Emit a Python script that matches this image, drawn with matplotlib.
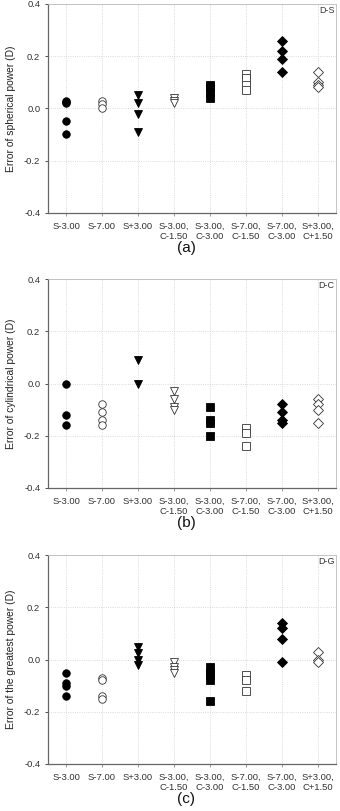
import matplotlib
matplotlib.use("Agg")
import matplotlib.pyplot as plt

plt.rcParams['font.family'] = ['Liberation Sans', 'DejaVu Sans']

categories = ["S-3.00", "S-7.00", "S+3.00", "S-3.00,\nC-1.50", "S-3.00,\nC-3.00",
              "S-7.00,\nC-1.50", "S-7.00,\nC-3.00", "S+3.00,\nC+1.50"]

# marker style per category: (marker, filled)
markers = ["o", "o", "v", "v", "s", "s", "D", "D"]
filled  = [True, False, True, False, True, False, True, False]

# (a) spherical power error
sph_vals = [
    [0.03, 0.025, 0.02, -0.05, -0.10],
    [0.03, 0.015, 0.0],
    [0.05, 0.02, -0.02, -0.09],
    [0.04, 0.03, 0.02],
    [0.09, 0.08, 0.06, 0.04],
    [0.13, 0.115, 0.09, 0.07],
    [0.26, 0.22, 0.19, 0.14],
    [0.14, 0.10, 0.09, 0.08],
]

# (b) cylindrical power error
cyl_vals = [
    [0.0, -0.12, -0.16],
    [-0.08, -0.11, -0.14, -0.16],
    [0.09, 0.0],
    [-0.03, -0.06, -0.09, -0.10],
    [-0.09, -0.14, -0.15, -0.20],
    [-0.17, -0.19, -0.24],
    [-0.08, -0.11, -0.14, -0.15],
    [-0.06, -0.08, -0.10, -0.15],
]

# (c) greatest power error
grt_vals = [
    [-0.05, -0.09, -0.10, -0.14],
    [-0.07, -0.08, -0.14, -0.15],
    [0.05, 0.025, 0.0, -0.02],
    [-0.01, -0.03, -0.04, -0.05],
    [-0.03, -0.05, -0.06, -0.08, -0.16],
    [-0.06, -0.08, -0.12],
    [0.14, 0.12, 0.08, -0.01],
    [0.03, 0.0, -0.01],
]

panels = [
    (sph_vals, "Error of spherical power (D)", "D-S", "(a)"),
    (cyl_vals, "Error of cylindrical power (D)", "D-C", "(b)"),
    (grt_vals, "Error of the greatest power (D)", "D-G", "(c)"),
]

fig = plt.figure(figsize=(3.4, 8.11), dpi=100)
left, width = 0.1412, 0.847
bottoms = [0.7377, 0.3983, 0.0580]
height = 0.2574

for (vals, ylab, tag, letter), bot in zip(panels, bottoms):
    ax = fig.add_axes([left, bot, width, height])
    for i, ys in enumerate(vals):
        xs = [i + 1] * len(ys)
        if filled[i]:
            ax.plot(xs, ys, linestyle="none", marker=markers[i], markersize=5.4,
                    color="black", markeredgecolor="black", markeredgewidth=0.6, zorder=3)
        else:
            ax.plot(xs, ys, linestyle="none", marker=markers[i], markersize=5.4,
                    markerfacecolor="white", markeredgecolor="#333333",
                    markeredgewidth=0.6, zorder=3)
    ax.set_xlim(0.5, 8.5)
    ax.set_ylim(-0.4, 0.4)
    ax.set_yticks([-0.4, -0.2, 0.0, 0.2, 0.4])
    ax.set_yticklabels(["-0.4", "-0.2", "0.0", "0.2", "0.4"])
    ax.set_xticks(range(1, 9))
    ax.set_xticklabels(categories)
    ax.tick_params(axis="both", labelsize=6.8, colors="#333333", length=2.5, width=0.6,
                   direction="out", pad=3)
    ax.tick_params(axis="x", pad=4, color="#888888")
    ax.grid(True, linestyle=":", color="#cfcfcf", linewidth=0.6)
    ax.set_axisbelow(True)
    for s in ["left", "bottom"]:
        ax.spines[s].set_color("#666666")
        ax.spines[s].set_linewidth(0.9)
    for s in ["top", "right"]:
        ax.spines[s].set_color("#bbbbbb")
        ax.spines[s].set_linewidth(0.6)
    ax.set_ylabel(ylab, fontsize=7.4, color="#222222", labelpad=6)
    ax.text(0.995, 0.99, tag, transform=ax.transAxes, ha="right", va="top",
            fontsize=6.5, color="#333333")
    ax.text(0.48, -0.17, letter, transform=ax.transAxes, ha="center", va="center",
            fontsize=11, color="#111111")

fig.savefig("out.png", dpi=100)
